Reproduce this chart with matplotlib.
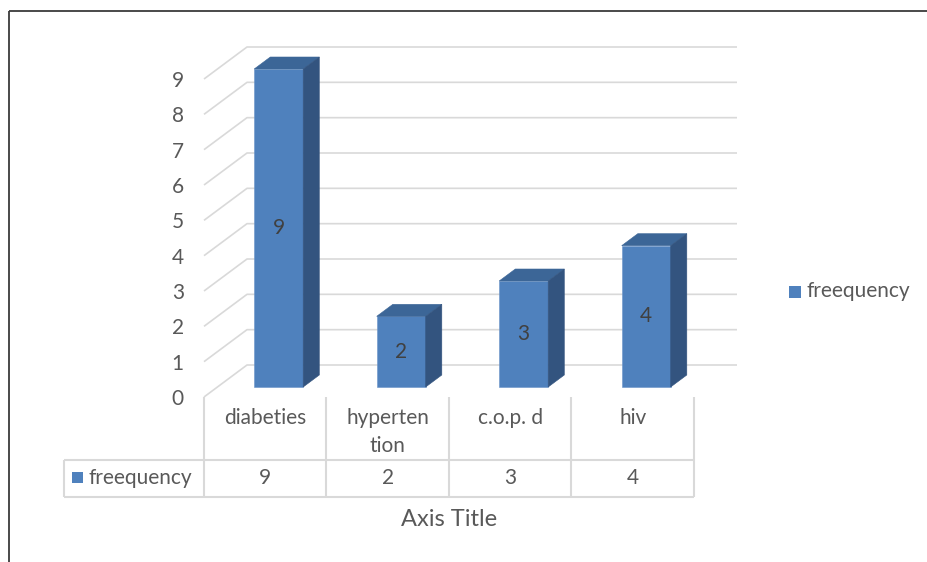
import matplotlib
matplotlib.use("Agg")
import matplotlib.pyplot as plt
from matplotlib.patches import Polygon, Rectangle

# ---- data ----
categories = ["diabeties", "hyperten\ntion", "c.o.p. d", "hiv"]
table_labels = ["9", "2", "3", "4"]
series_name = "freequency"
values = [9, 2, 3, 4]
y_ticks = list(range(0, 10))

# ---- style ----
plt.rcParams["font.family"] = ["Lato", "DejaVu Sans"]
TXT = "#595959"
GRID = "#D9D9D9"
FRONT = "#4F81BD"
TOP = "#3C6697"
SIDE = "#33547F"
FS = 15

W, H = 927, 562
DPI = 100
fig = plt.figure(figsize=(W / DPI, H / DPI), dpi=DPI)
fig.patch.set_facecolor("white")

# overlay axes in pixel units (for frame, table and legend)
pix = fig.add_axes([0, 0, 1, 1])
pix.set_xlim(0, W)
pix.set_ylim(H, 0)
pix.axis("off")

# plot axes: x in category units, y in value units (front plane)
x0_px, x1_px = 204, 694
y0_px, y9_px = 397, 79
ax = fig.add_axes([x0_px / W, (H - y0_px) / H, (x1_px - x0_px) / W, (y0_px - y9_px) / H])
ax.set_xlim(0, len(categories))
ax.set_ylim(0, 9)
ax.axis("off")
ax.patch.set_alpha(0)

# depth of the chart floor, in axis units
ncat = len(categories)
unit_x = (x1_px - x0_px) / ncat
unit_y = (y0_px - y9_px) / 9
DX = 43 / unit_x
DY = 32 / unit_y

# gridlines: side wall diagonals + back wall horizontals
for v in y_ticks:
    ax.plot([0, DX, ncat + DX], [v, v + DY, v + DY], color=GRID, lw=1.2,
            clip_on=False, zorder=1, solid_capstyle="butt")
    ax.text(-0.165, v - 0.06, str(v), ha="right", va="center", fontsize=FS, color=TXT)

# 3D columns
bar_w = 0.4
f0, f1 = 0.3125, 0.6875
for i, v in enumerate(values):
    xl = i + 0.5 - bar_w / 2 + f0 * DX
    xr = xl + bar_w
    yb = f0 * DY
    yt = v + f0 * DY
    ddx = (f1 - f0) * DX
    ddy = (f1 - f0) * DY
    front = Polygon([(xl, yb), (xr, yb), (xr, yt), (xl, yt)], closed=True,
                    facecolor=FRONT, edgecolor="#6A93C8", lw=0.4, zorder=3, clip_on=False)
    top = Polygon([(xl, yt), (xr, yt), (xr + ddx, yt + ddy), (xl + ddx, yt + ddy)],
                  closed=True, facecolor=TOP, edgecolor=TOP, lw=0.4, zorder=3, clip_on=False)
    side = Polygon([(xr, yb), (xr + ddx, yb + ddy), (xr + ddx, yt + ddy), (xr, yt)],
                   closed=True, facecolor=SIDE, edgecolor=SIDE, lw=0.4, zorder=3, clip_on=False)
    for p in (front, top, side):
        ax.add_patch(p)
    ax.text((xl + xr) / 2, (yb + yt) / 2, str(v), ha="center", va="center",
            fontsize=FS, color="#404040", zorder=4)

# ---- data table ----
row_top, row_mid, row_bot = 397, 460, 497
tab_left = 64
lc = dict(color=GRID, lw=1.5, solid_capstyle="butt")
for i in range(ncat + 1):
    xb = x0_px + i * unit_x
    pix.plot([xb, xb], [row_top, row_bot], **lc)
pix.plot([tab_left, x1_px], [row_mid, row_mid], **lc)
pix.plot([tab_left, x1_px], [row_bot, row_bot], **lc)
pix.plot([tab_left, tab_left], [row_mid, row_bot], **lc)

for i, (c, t) in enumerate(zip(categories, table_labels)):
    xc = x0_px + (i + 0.5) * unit_x
    for k, line in enumerate(c.split("\n")):
        pix.text(xc, 418 + 28 * k, line, ha="center", va="center", fontsize=FS, color=TXT)
    pix.text(xc, (row_mid + row_bot) / 2, t, ha="center", va="center", fontsize=FS, color=TXT)

pix.add_patch(Rectangle((72, 472), 11, 11, facecolor=FRONT, edgecolor="none"))
pix.text(89, (row_mid + row_bot) / 2, series_name, ha="left", va="center", fontsize=FS, color=TXT)

# axis title
pix.text((x0_px + x1_px) / 2, 519, "Axis Title", ha="center", va="center", fontsize=17, color=TXT)

# legend
pix.add_patch(Rectangle((789, 286), 12, 12, facecolor=FRONT, edgecolor="none"))
pix.text(807, 291, series_name, ha="left", va="center", fontsize=FS, color=TXT)

# outer frame (top and left edges)
pix.plot([9.5, W], [10.5, 10.5], color="#3A3A3A", lw=1.3, solid_capstyle="butt")
pix.plot([9.5, 9.5], [10.5, H], color="#3A3A3A", lw=1.3, solid_capstyle="butt")

fig.savefig("out.png", dpi=DPI, facecolor="white")
